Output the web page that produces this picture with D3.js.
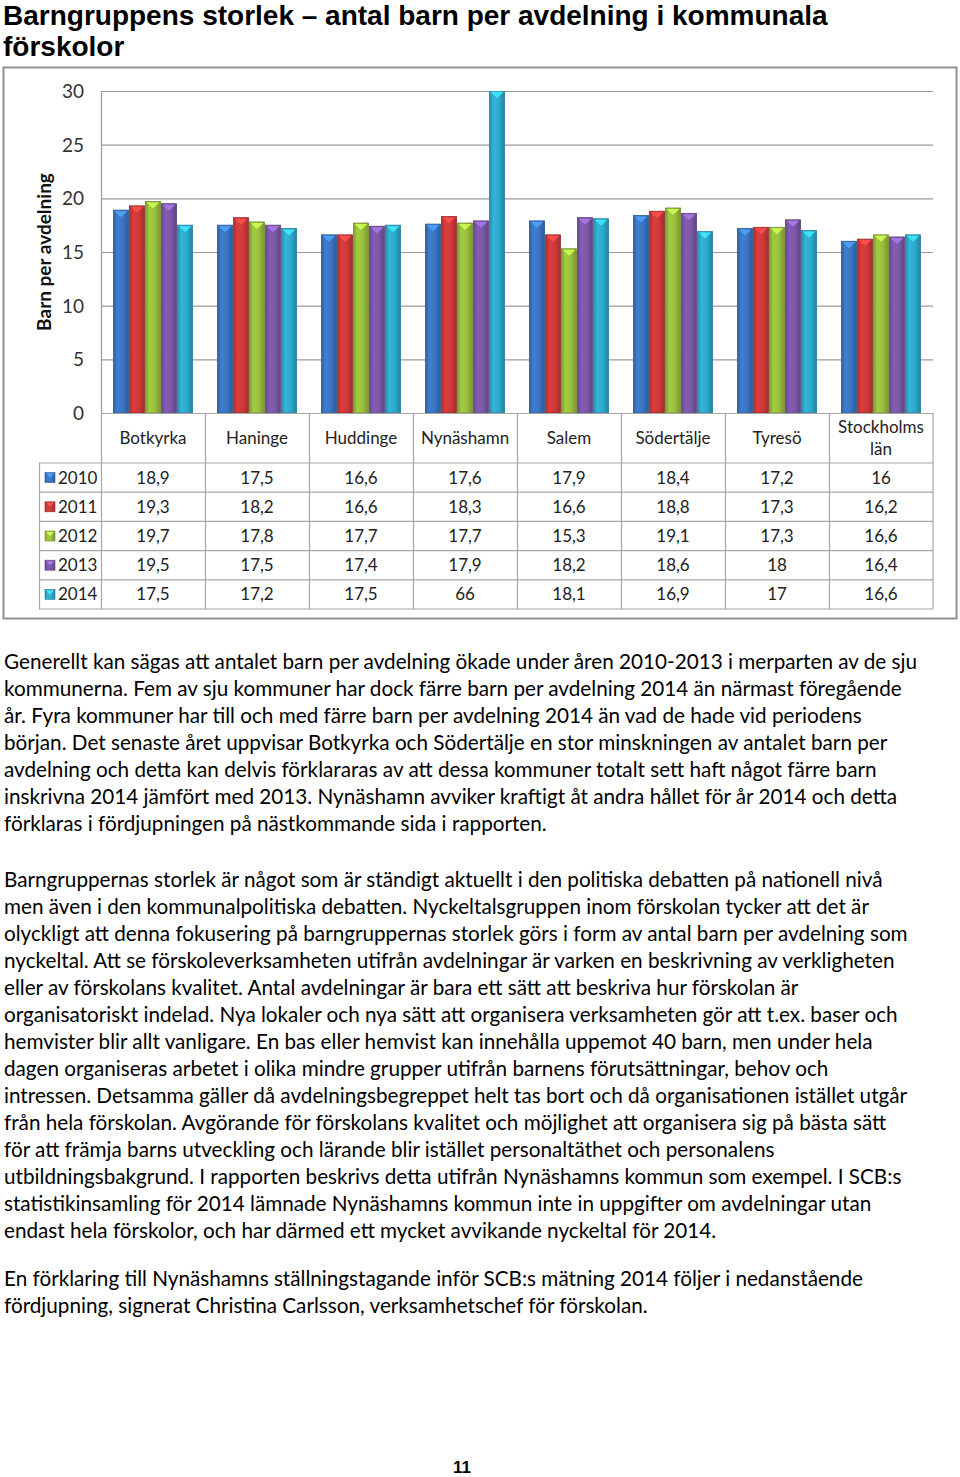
<!DOCTYPE html>
<html>
<head>
<meta charset="utf-8">
<script src="https://cdn.jsdelivr.net/npm/d3@7"></script>
<style>
html,body{margin:0;padding:0;background:#fff;}
svg{display:block;}
</style>
</head>
<body>
<svg id="page" width="960" height="1477"></svg>
<script>
// ---------------- DATA ----------------
const categories = ["Botkyrka","Haninge","Huddinge","Nynäshamn","Salem","Södertälje","Tyresö","Stockholms län"];
const years = ["2010","2011","2012","2013","2014"];
const v2010 = [18.9,17.5,16.6,17.6,17.9,18.4,17.2,16];
const v2011 = [19.3,18.2,16.6,18.3,16.6,18.8,17.3,16.2];
const v2012 = [19.7,17.8,17.7,17.7,15.3,19.1,17.3,16.6];
const v2013 = [19.5,17.5,17.4,17.9,18.2,18.6,18,16.4];
const v2014 = [17.5,17.2,17.5,66,18.1,16.9,17,16.6];
const yTicks = [0,5,10,15,20,25,30];
const seriesColors = ["#3b77c6","#cf3b3a","#9ac13d","#7d59a9","#30abd0"];

const series = [v2010,v2011,v2012,v2013,v2014];

const para1 = [
"Generellt kan sägas att antalet barn per avdelning ökade under åren 2010-2013 i merparten av de sju",
"kommunerna. Fem av sju kommuner har dock färre barn per avdelning 2014 än närmast föregående",
"år. Fyra kommuner har till och med färre barn per avdelning 2014 än vad de hade vid periodens",
"början. Det senaste året uppvisar Botkyrka och Södertälje en stor minskningen av antalet barn per",
"avdelning och detta kan delvis förklararas av att dessa kommuner totalt sett haft något färre barn",
"inskrivna 2014 jämfört med 2013. Nynäshamn avviker kraftigt åt andra hållet för år 2014 och detta",
"förklaras i fördjupningen på nästkommande sida i rapporten."
];
const para2 = [
"Barngruppernas storlek är något som är ständigt aktuellt i den politiska debatten på nationell nivå",
"men även i den kommunalpolitiska debatten. Nyckeltalsgruppen inom förskolan tycker att det är",
"olyckligt att denna fokusering på barngruppernas storlek görs i form av antal barn per avdelning som",
"nyckeltal. Att se förskoleverksamheten utifrån avdelningar är varken en beskrivning av verkligheten",
"eller av förskolans kvalitet. Antal avdelningar är bara ett sätt att beskriva hur förskolan är",
"organisatoriskt indelad. Nya lokaler och nya sätt att organisera verksamheten gör att t.ex. baser och",
"hemvister blir allt vanligare. En bas eller hemvist kan innehålla uppemot 40 barn, men under hela",
"dagen organiseras arbetet i olika mindre grupper utifrån barnens förutsättningar, behov och",
"intressen. Detsamma gäller då avdelningsbegreppet helt tas bort och då organisationen istället utgår",
"från hela förskolan. Avgörande för förskolans kvalitet och möjlighet att organisera sig på bästa sätt",
"för att främja barns utveckling och lärande blir istället personaltäthet och personalens",
"utbildningsbakgrund. I rapporten beskrivs detta utifrån Nynäshamns kommun som exempel. I SCB:s",
"statistikinsamling för 2014 lämnade Nynäshamns kommun inte in uppgifter om avdelningar utan",
"endast hela förskolor, och har därmed ett mycket avvikande nyckeltal för 2014."
];
const para3 = [
"En förklaring till Nynäshamns ställningstagande inför SCB:s mätning 2014 följer i nedanstående",
"fördjupning, signerat Christina Carlsson, verksamhetschef för förskolan."
];

// ---------------- DRAW ----------------
const svg = d3.select("#page");
const FONT = "Lato, 'Open Sans', sans-serif";

// Title
const title = svg.append("text").attr("font-family","'Liberation Sans', Arial, sans-serif")
  .attr("font-weight","bold").attr("font-size",28).attr("fill","#000");
title.append("tspan").attr("x",3).attr("y",25).text("Barngruppens storlek – antal barn per avdelning i kommunala");
title.append("tspan").attr("x",3).attr("y",56).text("förskolor");

// Chart frame
svg.append("rect").attr("x",3.5).attr("y",67.5).attr("width",953).attr("height",551)
  .attr("fill","#fff").attr("stroke","#909090").attr("stroke-width",2);

const plotL = 101, plotR = 933, plotT = 91, plotB = 413;
const x = d3.scaleBand().domain(categories).range([plotL, plotR]).paddingInner(0).paddingOuter(0);
const xs = d3.scaleBand().domain(years).range([12, x.bandwidth()-12]).padding(0);
const y = d3.scaleLinear().domain([0,30]).range([plotB, plotT]);

// defs: gradients
const defs = svg.append("defs");
seriesColors.forEach((c,i)=>{
  const base = d3.color(c);
  const g = defs.append("linearGradient").attr("id","g"+i).attr("x1","0").attr("x2","1").attr("y1","0").attr("y2","0");
  g.append("stop").attr("offset","0%").attr("stop-color",base.darker(0.6));
  g.append("stop").attr("offset","25%").attr("stop-color",base.brighter(0.15));
  g.append("stop").attr("offset","60%").attr("stop-color",base);
  g.append("stop").attr("offset","100%").attr("stop-color",base.darker(0.7));
});
defs.append("clipPath").attr("id","plotclip").append("rect")
  .attr("x",plotL).attr("y",plotT).attr("width",plotR-plotL).attr("height",plotB-plotT);

// gridlines
svg.append("g").selectAll("line").data(yTicks.filter(t=>t>0)).join("line")
  .attr("x1",plotL).attr("x2",plotR).attr("y1",d=>y(d)+0.5).attr("y2",d=>y(d)+0.5)
  .attr("stroke","#9a9a9a").attr("stroke-width",1.2);
// y axis line
svg.append("line").attr("x1",plotL+0.5).attr("x2",plotL+0.5).attr("y1",plotT).attr("y2",plotB)
  .attr("stroke","#9a9a9a").attr("stroke-width",1.2);

// y tick labels via axis
const yAxis = d3.axisLeft(y).tickValues(yTicks).tickSize(0).tickPadding(0);
const ya = svg.append("g").attr("transform",`translate(${plotL-17},0)`).call(yAxis);
ya.select(".domain").remove();
ya.selectAll("text").attr("font-family",FONT).attr("font-size",19).attr("fill","#333").attr("dy","0.35em");

// y axis title
svg.append("text").attr("transform","translate(51,252) rotate(-90)")
  .attr("text-anchor","middle").attr("font-family",FONT).attr("font-weight","bold")
  .attr("font-size",19).attr("fill","#111").text("Barn per avdelning");

// bars
const barsG = svg.append("g").attr("clip-path","url(#plotclip)");
series.forEach((vals,si)=>{
  const light = d3.color(seriesColors[si]).brighter(0.9);
  const dark = d3.color(seriesColors[si]).darker(0.9);
  const g = barsG.append("g");
  const bw = xs.bandwidth();
  g.selectAll("rect").data(vals).join("rect")
    .attr("x",(d,i)=>x(categories[i])+xs(years[si])+0.5)
    .attr("y",d=>y(d))
    .attr("width",bw-1)
    .attr("height",d=>plotB-y(d))
    .attr("fill",`url(#g${si})`)
    .attr("stroke",dark).attr("stroke-width",0.8);
  g.selectAll("polygon").data(vals).join("polygon")
    .attr("points",(d,i)=>{
      const x0 = x(categories[i])+xs(years[si])+1.5, x1 = x0+bw-3;
      const yt = Math.max(y(d), plotT)+1;
      return `${x0},${yt} ${x1},${yt} ${(x0+x1)/2},${yt+6}`;
    })
    .attr("fill",light).attr("opacity",0.85);
});

// table
const rowTop = 463, rowH = 29.2, nRows = years.length;
const tblBottom = rowTop + rowH*nRows;
const legL = 39;
const lineC = "#a6a6a6";
const tg = svg.append("g");
tg.append("line").attr("x1",plotL).attr("x2",plotR).attr("y1",plotB+0.5).attr("y2",plotB+0.5).attr("stroke",lineC).attr("stroke-width",1.2);
d3.range(nRows+1).forEach(r=>{
  tg.append("line").attr("x1",legL).attr("x2",plotR).attr("y1",rowTop+r*rowH).attr("y2",rowTop+r*rowH)
    .attr("stroke",lineC).attr("stroke-width",1.2);
});
categories.forEach((c,i)=>{
  tg.append("line").attr("x1",x(c)+0.5).attr("x2",x(c)+0.5).attr("y1",plotB).attr("y2",tblBottom).attr("stroke",lineC).attr("stroke-width",1.2);
});
tg.append("line").attr("x1",plotR).attr("x2",plotR).attr("y1",plotB).attr("y2",tblBottom).attr("stroke",lineC).attr("stroke-width",1.2);
tg.append("line").attr("x1",legL+0.5).attr("x2",legL+0.5).attr("y1",rowTop).attr("y2",tblBottom).attr("stroke",lineC).attr("stroke-width",1.2);

// category labels
categories.forEach(c=>{
  const t = tg.append("text").attr("text-anchor","middle").attr("font-family",FONT).attr("font-size",17).attr("fill","#222");
  const cx = x(c)+x.bandwidth()/2;
  const parts = c === "Stockholms län" ? ["Stockholms","län"] : [c];
  if(parts.length===1){
    t.attr("x",cx).attr("y",(plotB+rowTop)/2).attr("dy","0.35em").text(c);
  } else {
    t.append("tspan").attr("x",cx).attr("y",(plotB+rowTop)/2-11).attr("dy","0.35em").text(parts[0]);
    t.append("tspan").attr("x",cx).attr("y",(plotB+rowTop)/2+11).attr("dy","0.35em").text(parts[1]);
  }
});
const fmt = v => String(v).replace(".",",");
series.forEach((vals,si)=>{
  const cy = rowTop + rowH*si + rowH/2;
  tg.append("rect").attr("x",45).attr("y",cy-5).attr("width",10).attr("height",10)
    .attr("fill",`url(#g${si})`).attr("stroke",d3.color(seriesColors[si]).darker(0.8)).attr("stroke-width",0.6);
  tg.append("polygon").attr("points",`${46},${cy-4} ${54},${cy-4} ${50},${cy}`).attr("fill",d3.color(seriesColors[si]).brighter(0.9));
  tg.append("text").attr("x",58).attr("y",cy).attr("dy","0.35em").attr("font-family",FONT).attr("font-size",17).attr("fill","#222").text(years[si]);
  tg.selectAll(null).data(vals).join("text")
    .attr("x",(d,i)=>x(categories[i])+x.bandwidth()/2).attr("y",cy).attr("dy","0.35em")
    .attr("text-anchor","middle").attr("font-family",FONT).attr("font-size",17).attr("fill","#222")
    .text(d=>fmt(d));
});

// body text
function para(lines, y0){
  svg.append("g").selectAll("text").data(lines).join("text")
    .attr("x",4).attr("y",(d,i)=>y0+i*27).attr("font-family",FONT).attr("font-size",20.7).attr("fill","#000")
    .text(d=>d);
}
para(para1, 669);
para(para2, 887);
para(para3, 1286);

// page number
svg.append("text").attr("x",462).attr("y",1473).attr("text-anchor","middle")
  .attr("font-family","'Liberation Sans', Arial, sans-serif").attr("font-weight","bold").attr("font-size",17).text("11");
</script>
</body>
</html>
